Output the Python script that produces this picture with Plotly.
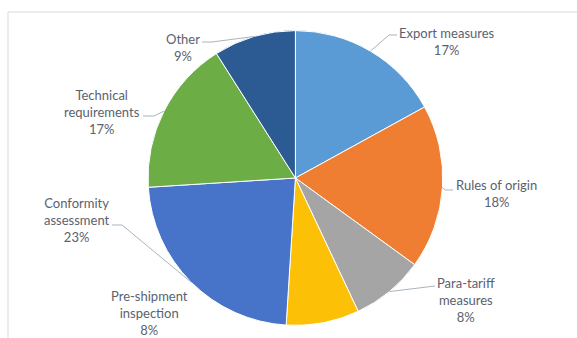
import math
import plotly.graph_objects as go

# Share of non-tariff measures by chapter (%)
categories = [
    "Export measures",
    "Rules of origin",
    "Para-tariff<br>measures",
    "Pre-shipment<br>inspection",
    "Conformity<br>assessment",
    "Technical<br>requirements",
    "Other",
]
values = [17, 18, 8, 8, 23, 17, 9]
colors = ["#5b9bd5", "#ef7e32", "#a5a5a5", "#fcc107", "#4773c8", "#6cad46", "#2b5b92"]

W, H = 577, 338
CX, CY, R = 295.4, 178.0, 147.4          # pie centre / radius in pixels

# label block centres (pixels) and leader-line bends (pixels, from label toward slice)
label_pos = [(447, 41.5), (496, 193.5), (466, 300), (149, 313),
             (77, 220), (102, 112), (183, 47.5)]
leader_bends = [
    [(397, 35), (389, 35)],
    [(453, 190), (445, 190)],
    [(435, 286)],
    None,
    [(112, 225), (122, 225)],
    [(143, 116), (154, 116)],
    [(202, 42), (212, 42)],
]

def px(x, y):
    return x / W, 1 - y / H

fig = go.Figure(go.Pie(
    labels=categories,
    values=values,
    sort=False,
    direction="clockwise",
    rotation=0,
    marker=dict(colors=colors, line=dict(color="white", width=1)),
    textinfo="none",
    hoverinfo="label+percent",
    domain=dict(x=[(CX - R) / W, (CX + R) / W],
                y=[(H - CY - R) / H, (H - CY + R) / H]),
    showlegend=False,
))

total = sum(values)
shapes = [dict(type="rect", xref="paper", yref="paper",
               x0=8 / W, x1=1.05, y0=-0.05, y1=1 - 12 / H,
               line=dict(color="#d9d9d9", width=1), fillcolor="rgba(0,0,0,0)",
               layer="below")]
annotations = []
cum = 0
for name, v, (lx, ly), bends in zip(categories, values, label_pos, leader_bends):
    mid = (cum + v / 2) / total * 2 * math.pi
    cum += v
    ex, ey = CX + R * math.sin(mid), CY - R * math.cos(mid)
    if bends:
        pts = bends + [(ex, ey)]
        path = "M " + " L ".join(f"{px(x, y)[0]},{px(x, y)[1]}" for x, y in pts)
        shapes.append(dict(type="path", xref="paper", yref="paper", path=path,
                           line=dict(color="#a9b4c2", width=1)))
    pct = round(v / total * 100)
    ax, ay = px(lx, ly)
    annotations.append(dict(
        x=ax, y=ay, xref="paper", yref="paper",
        text=f"{name}<br>{pct}%", showarrow=False,
        xanchor="center", yanchor="middle", align="center",
        font=dict(family="Lato, 'Open Sans', sans-serif", size=13, color="#5b6170"),
    ))

fig.update_layout(
    width=W, height=H,
    margin=dict(l=0, r=0, t=0, b=0),
    paper_bgcolor="white",
    plot_bgcolor="white",
    shapes=shapes,
    annotations=annotations,
)

fig.write_html("out.html")
